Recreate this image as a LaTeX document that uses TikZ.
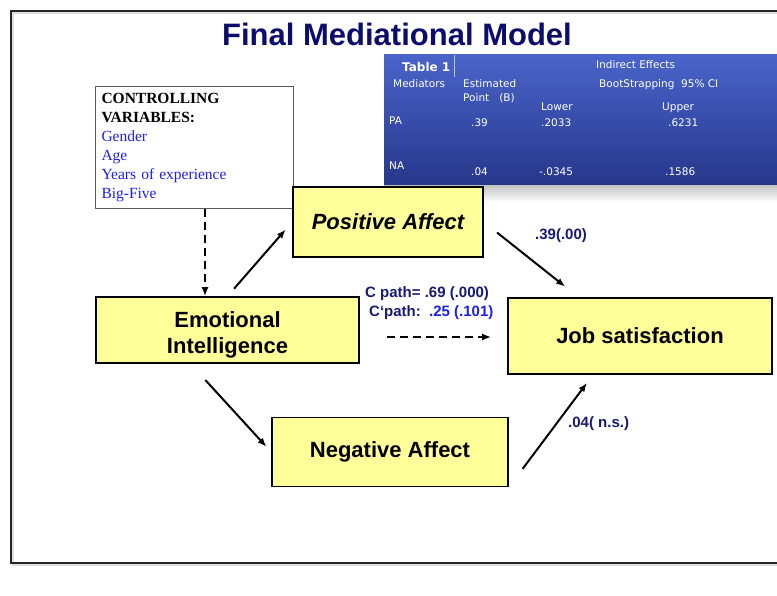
\documentclass[tikz,border=0pt]{standalone}
\usepackage{fontspec}
\setmainfont{Liberation Sans}
\newfontfamily\ctlserif{Liberation Serif}
\newfontfamily\tabsans{DejaVu Sans}
\usetikzlibrary{arrows.meta}

\definecolor{titlenavy}{RGB}{12,12,110}
\definecolor{labnavy}{RGB}{25,25,115}
\definecolor{ctlblue}{RGB}{30,30,235}
\definecolor{boxyellow}{RGB}{255,255,153}
\definecolor{tabtop}{RGB}{74,100,202}
\definecolor{tabbot}{RGB}{38,54,138}

\begin{document}
\begin{tikzpicture}[x=1pt,y=-1pt,
  mbox/.style={draw=black,line width=1.6pt,fill=boxyellow,align=center,
    font=\bfseries\fontsize{22}{26.5}\selectfont},
  effarrow/.style={-{Latex[length=9pt,width=7pt]},line width=2pt},
  dasharrow/.style={effarrow,dash pattern=on 8pt off 5pt},
  efflab/.style={anchor=west,inner sep=0pt,text=labnavy,
    font=\bfseries\fontsize{15}{18}\selectfont},
  tabtxt/.style={anchor=base west,inner sep=0pt,text=white,
    font=\tabsans\fontsize{10.5}{12}\selectfont}]
\useasboundingbox (0,0) rectangle (777,596);
% slide frame
\draw[gray!25,line width=1.8pt] (777,13) -| (13,565) -- (777,565);
\draw[black!85,line width=2pt] (777,11) -| (11,563) -- (777,563);
\node[text=titlenavy,font=\bfseries\fontsize{31}{36}\selectfont] (title) at (397,34) {Final Mediational Model};

% table 1
\shade[top color=tabtop,bottom color=tabbot] (384,55) rectangle (777,186);
\shade[top color=black!22,bottom color=white] (384,186) rectangle (777,202);
\draw[white!60!tabtop,line width=0.8pt] (454,55) -- (454,77);
\node[tabtxt,font=\tabsans\bfseries\fontsize{12}{14}\selectfont] (tabhead) at (402,72) {Table 1};
\foreach \tx/\ty/\cell in {%
  596/69/{Indirect Effects},
  393/88/{Mediators}, 463/88/{Estimated}, 463/102/{Point\ \ \ (B)},
  599/88/{BootStrapping\ \ 95\% CI},
  541/111/{Lower}, 662/111/{Upper},
  389/125/{PA}, 471/127/{.39}, 541/127/{.2033}, 668/127/{.6231},
  389/170/{NA}, 471/176/{.04}, 539/176/{-.0345}, 665/176/{.1586}} {
  \node[tabtxt] at (\tx,\ty) {\cell};
}

% controlling variables
\node[draw=black!65,line width=1pt,fill=white,anchor=north west,
  text width=186pt,minimum height=122pt,inner sep=6pt,align=left,
  font=\ctlserif\fontsize{15.5}{19}\selectfont] (ctrl) at (95,86)
  {\textbf{CONTROLLING}\\ \textbf{VARIABLES:}\\
   \color{ctlblue}Gender\\ Age\\ Years of experience\\ Big-Five};

% model boxes
\node[mbox,minimum width=190pt,minimum height=70pt] (pa) at (388,222) {\itshape Positive Affect};
\node[mbox,minimum width=263pt,minimum height=66pt] (ei) at (227.5,330) {};
\node[mbox,draw=none,fill=none] (eitext) at ([yshift=-5pt]ei.center) {Emotional\\ Intelligence};
\node[mbox,minimum width=264pt,minimum height=76pt] (js) at (640,336) {Job satisfaction};
\node[mbox,minimum width=236pt,minimum height=69pt] (na) at (390,452) {Negative Affect};

% paths
\draw[dasharrow] (ctrl.south -| 205,0) -- (ei.north -| 205,0);
\draw[effarrow,shorten <=10pt,shorten >=10pt] (ei.north) -- (pa.west);
\draw[effarrow,shorten <=22pt,shorten >=7pt] ([xshift=-37pt]ei.south) -- (na.west);
\draw[effarrow,shorten <=17pt,shorten >=17pt] (pa.east) -- ([xshift=-61.5pt]js.north);
\draw[effarrow,shorten <=23pt,shorten >=10pt] (na.south east) -- ([xshift=-47pt]js.south);
\draw[dasharrow,shorten <=27pt,shorten >=16pt] (ei.east |- 0,337) -- (js.west |- 0,337);

% coefficients
\node[efflab] (pajs) at (535,236) {.39(.00)};
\node[efflab] (cpath) at (365,294) {C path= .69 (.000)};
\node[efflab] (cprime) at (369,313) {C`path:\ \ \textcolor{ctlblue}{.25 (.101)}};
\node[efflab] (najs) at (568,424) {.04( n.s.)};
\end{tikzpicture}
\end{document}
